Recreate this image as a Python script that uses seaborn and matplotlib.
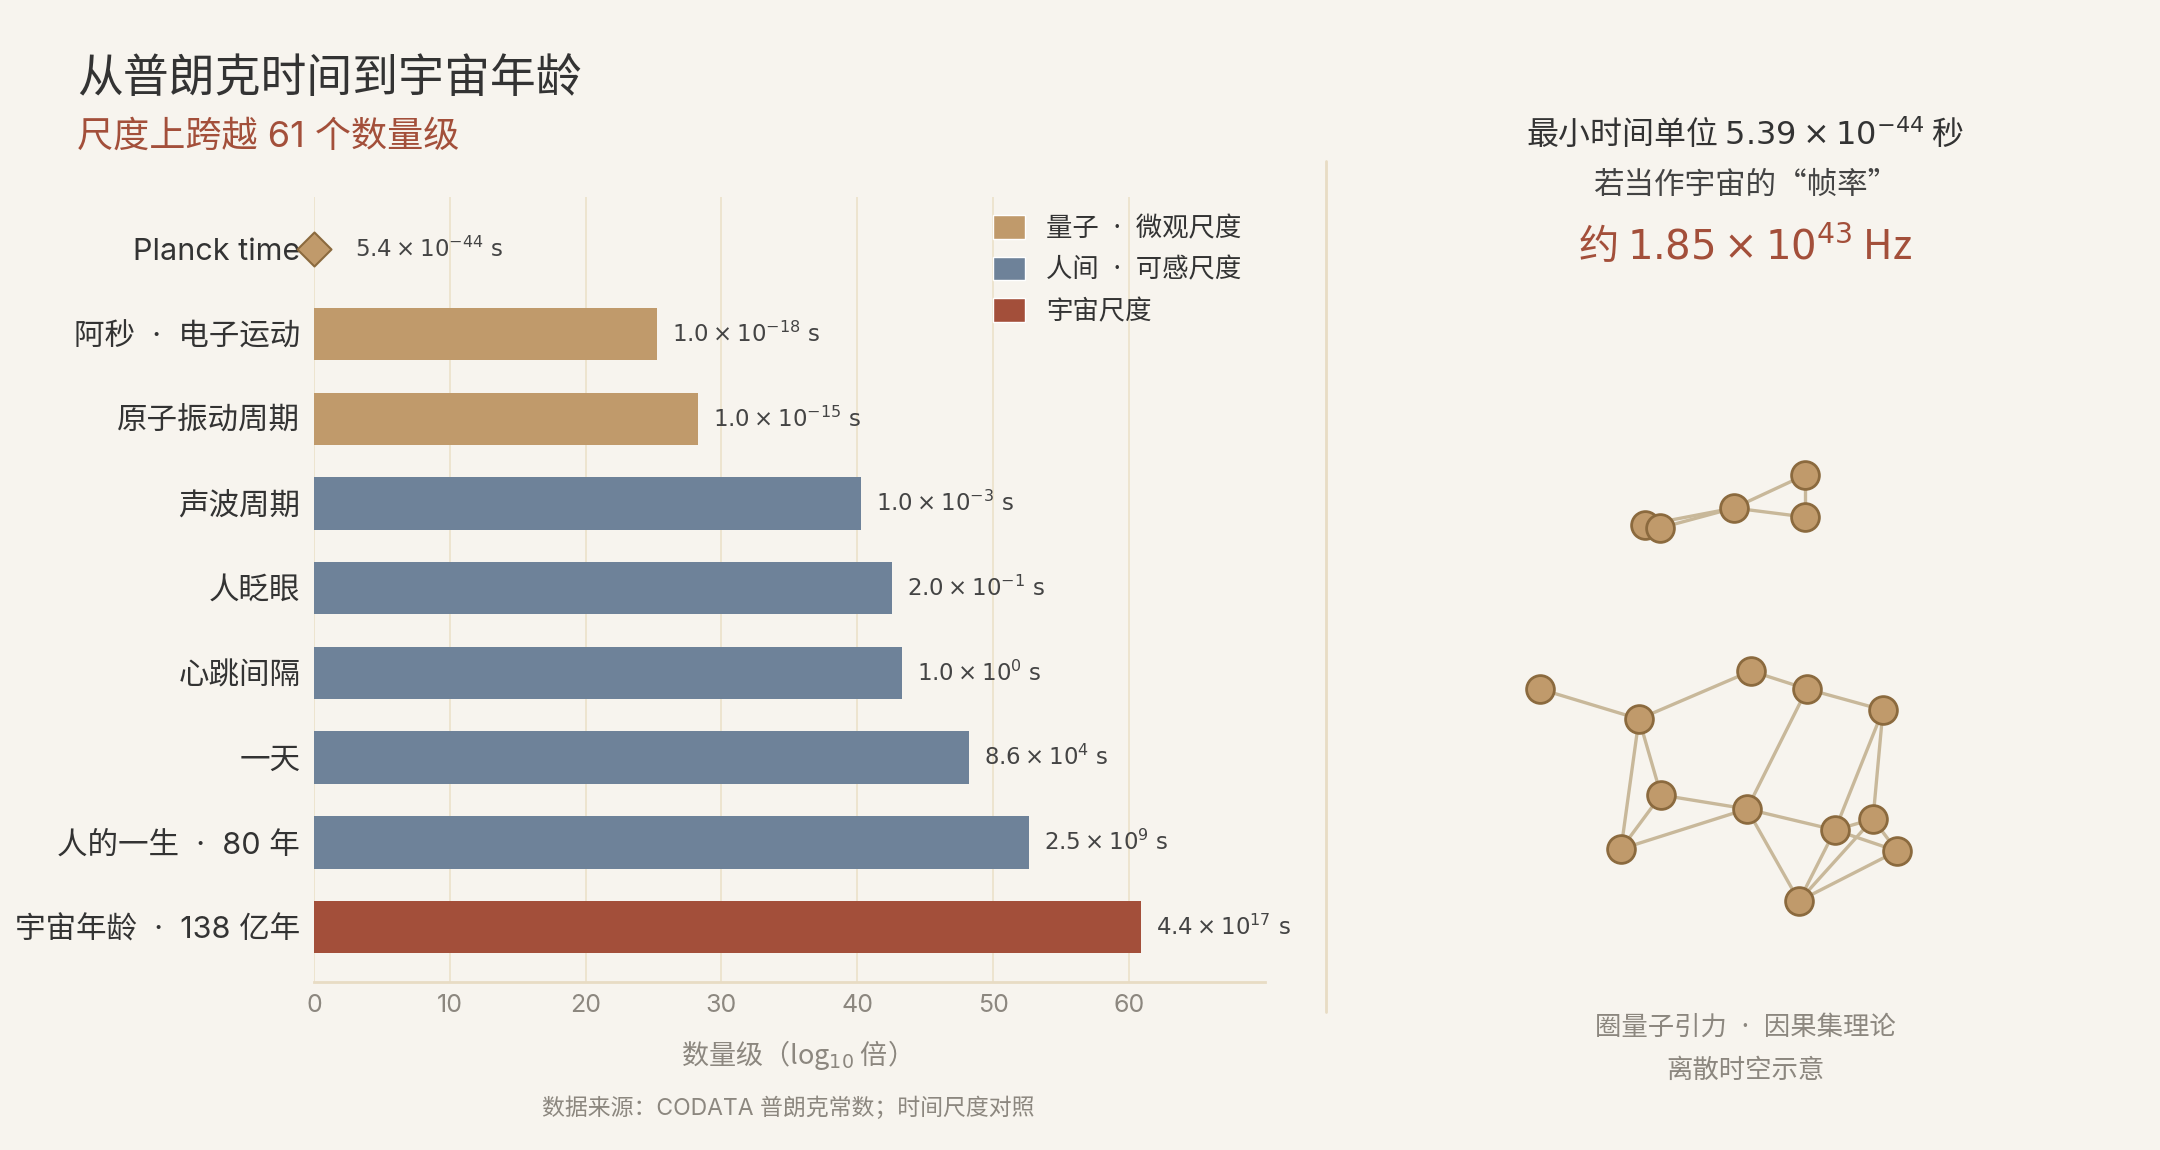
import numpy as np
import pandas as pd
import seaborn as sns
import matplotlib.pyplot as plt
from matplotlib.patches import Patch

# time scales, seconds
labels = ['Planck time', '阿秒  ·  电子运动', '原子振动周期', '声波周期', '人眨眼',
          '心跳间隔', '一天', '人的一生  ·  80 年', '宇宙年龄  ·  138 亿年']
seconds = [5.39e-44, 1e-18, 1e-15, 1e-3, 0.2, 1.0, 8.64e4, 2.52e9, 4.35e17]
groups = ['quantum', 'quantum', 'quantum', 'human', 'human', 'human', 'human', 'human', 'cosmic']
value_text = [r'$5.4 \times 10^{-44}$ s', r'$1.0 \times 10^{-18}$ s', r'$1.0 \times 10^{-15}$ s',
              r'$1.0 \times 10^{-3}$ s', r'$2.0 \times 10^{-1}$ s', r'$1.0 \times 10^{0}$ s',
              r'$8.6 \times 10^{4}$ s', r'$2.5 \times 10^{9}$ s', r'$4.4 \times 10^{17}$ s']
legend_names = {'quantum': '量子  ·  微观尺度', 'human': '人间  ·  可感尺度', 'cosmic': '宇宙尺度'}
palette = {'quantum': '#c09a6b', 'human': '#6e8299', 'cosmic': '#a34f3a'}

# schematic spacetime network (pixel positions in the right panel)
node_x = [1540, 1639, 1751, 1807, 1883, 1661, 1747, 1621, 1835, 1873, 1897, 1799,
          1645, 1660, 1734, 1805, 1805]
node_y = [689, 719, 671, 689, 710, 795, 809, 849, 830, 819, 851, 901,
          525, 528, 508, 475, 517]
edges = [(0, 1), (1, 2), (2, 3), (3, 4), (1, 5), (1, 7), (5, 6), (5, 7), (7, 6), (3, 6),
         (6, 8), (6, 11), (4, 8), (4, 9), (8, 9), (8, 10), (9, 10), (11, 8), (11, 9), (11, 10),
         (12, 14), (13, 14), (14, 15), (14, 16), (15, 16)]

planck = seconds[0]
df = pd.DataFrame({'label': labels, 'sec': seconds, 'group': groups})
df['mag'] = np.log10(df['sec'] / planck)

bg = '#f7f4ee'
dark = '#333333'
grey = '#8c877f'
red = '#a34f3a'
cjk = 'Noto Sans CJK SC'

sns.set_theme(style='white')
plt.rcParams['font.family'] = ['Inter', 'Noto Sans CJK SC', 'DejaVu Sans']
plt.rcParams['axes.unicode_minus'] = True

fig = plt.figure(figsize=(21.6, 11.5), dpi=100, facecolor=bg)
ax = fig.add_axes([0.1454, 0.1461, 0.4401, 0.6826], facecolor=bg)

sns.barplot(data=df, y='label', x='mag', hue='group', palette=palette, dodge=False,
            width=0.62, linewidth=0, saturation=1, legend=False, ax=ax)
pl = df.iloc[[0]]
sns.scatterplot(data=pl, x='mag', y='label', marker='D', s=300, color='#c09a6b',
                edgecolor='#8b6a3e', linewidth=1.5, zorder=5, clip_on=False, ax=ax)

for i, row in df.iterrows():
    xpos = row['mag'] + 1.1 if i > 0 else 3.0
    ax.text(xpos, i, value_text[i], va='center', ha='left', fontsize=16.5,
            color='#444444', family='DejaVu Sans')

ax.set_xlim(0, 70)
ax.set_ylim(8.65, -0.62)
ax.set_xticks(range(0, 70, 10))
ax.grid(axis='x', color='#ede3cc', linewidth=1.3)
ax.set_axisbelow(True)
for s in ['top', 'right', 'left']:
    ax.spines[s].set_visible(False)
ax.spines['bottom'].set_color('#e8dcc4')
ax.spines['bottom'].set_linewidth(2)
ax.tick_params(axis='x', length=0, labelsize=18, labelcolor=grey, pad=9)
ax.tick_params(axis='y', length=0, labelsize=22, labelcolor=dark, pad=10)
ax.set_ylabel('')
ax.set_xlabel('数量级（log$_{10}$ 倍）', fontsize=19.5, color=grey, labelpad=15, family=cjk)

handles = [Patch(facecolor=palette[g], label=legend_names[g]) for g in ['quantum', 'human', 'cosmic']]
ax.legend(handles=handles, loc='upper right', bbox_to_anchor=(0.995, 1.0), frameon=False,
          fontsize=19, handlelength=1.2, handleheight=1.0, labelcolor=dark, borderaxespad=0.3,
          labelspacing=0.55)

fig.text(0.0357, 0.931, '从普朗克时间到宇宙年龄', fontsize=33, color=dark, va='center')
fig.text(0.0357, 0.881, '尺度上跨越 61 个数量级', fontsize=26, color=red, va='center')
fig.text(0.365, 0.036, '数据来源：CODATA 普朗克常数；时间尺度对照', fontsize=16.5,
         color=grey, ha='center', va='center')

# separator
fig.add_artist(plt.Line2D([0.614, 0.614], [0.12, 0.86], color='#e8dcc4', linewidth=2))

cx = 0.808
fig.text(cx, 0.884, r'最小时间单位 $5.39 \times 10^{-44}$ 秒', fontsize=23, color=dark,
         ha='center', va='center', family=cjk)
fig.text(cx, 0.839, '若当作宇宙的“帧率”', fontsize=22, color='#444444', ha='center',
         va='center', family=cjk)
fig.text(cx, 0.785, r'约 $1.85 \times 10^{43}$ Hz', fontsize=29, color=red, ha='center',
         va='center', family=cjk)
fig.text(cx, 0.1066, '圈量子引力  ·  因果集理论', fontsize=19, color=grey, ha='center', va='center')
fig.text(cx, 0.0686, '离散时空示意', fontsize=19, color=grey, ha='center', va='center')

net = fig.add_axes([1400 / 2160, 1 - 950 / 1150, 700 / 2160, 500 / 1150])
for a, b in edges:
    net.plot([node_x[a], node_x[b]], [node_y[a], node_y[b]], color='#c8b89a', linewidth=2.4,
             zorder=1, solid_capstyle='round')
nodes = pd.DataFrame({'x': node_x, 'y': node_y})
sns.scatterplot(data=nodes, x='x', y='y', s=400, color='#c09a6b', edgecolor='#8b6a3e',
                linewidth=2, zorder=3, ax=net)
net.set_xlim(1400, 2100)
net.set_ylim(950, 450)
net.axis('off')

fig.savefig('out.png', dpi=100, facecolor=bg)
